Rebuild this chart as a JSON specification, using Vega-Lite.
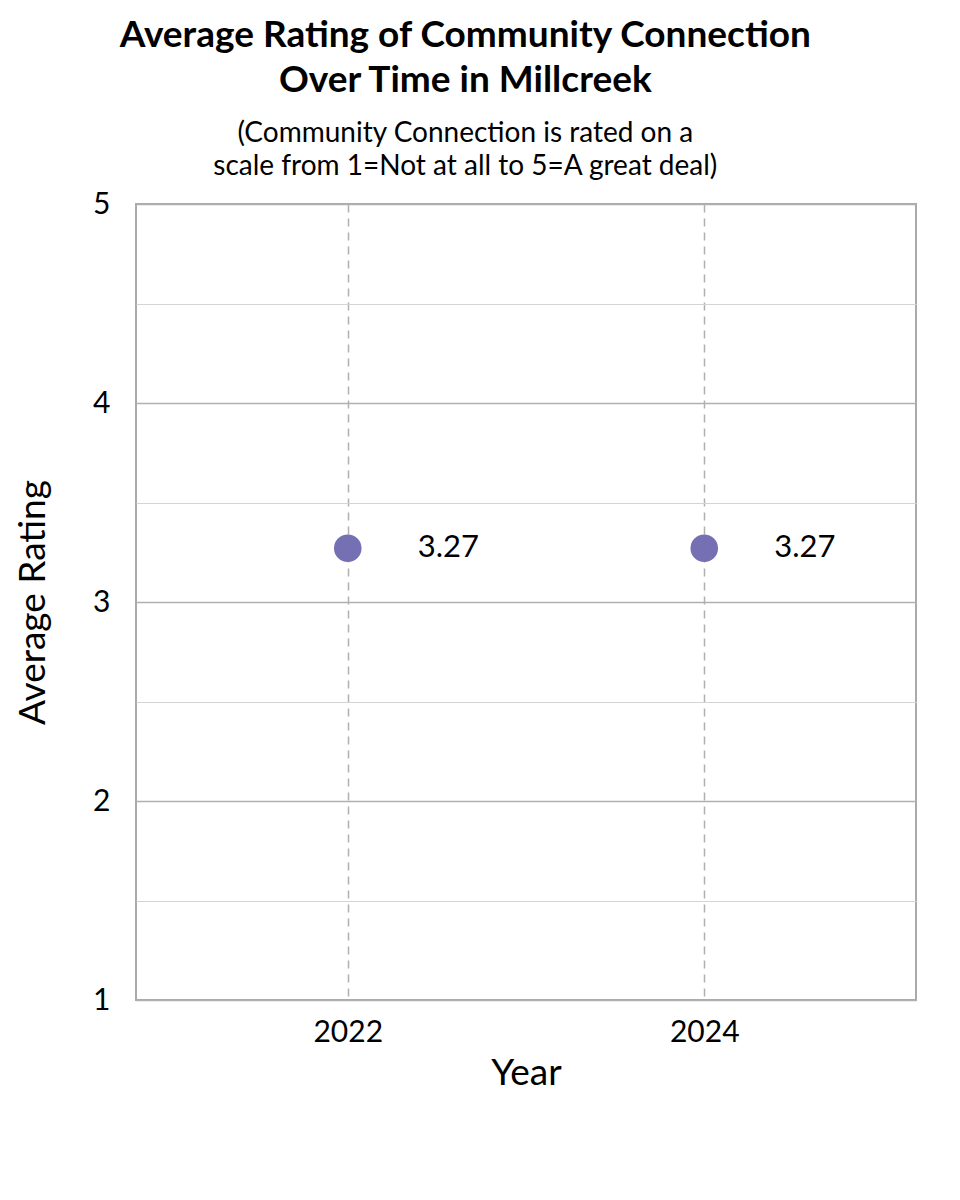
{
  "$schema": "https://vega.github.io/schema/vega-lite/v6.json",
  "width": 780,
  "height": 796,
  "autosize": "none",
  "padding": {"left": 136, "top": 204, "right": 44, "bottom": 200},
  "background": "white",
  "title": {
    "text": ["Average Rating of Community Connection", "Over Time in Millcreek"],
    "subtitle": ["(Community Connection is rated on a", "scale from 1=Not at all to 5=A great deal)"],
    "anchor": "middle",
    "frame": "bounds",
    "font": "Lato",
    "fontSize": 37,
    "fontWeight": "bold",
    "lineHeight": 45,
    "subtitleFont": "Lato",
    "subtitleFontSize": 28,
    "subtitleLineHeight": 33,
    "subtitlePadding": 20,
    "subtitleColor": "black",
    "color": "black",
    "offset": 7
  },
  "data": {
    "values": [
      {"Year": "2022", "Rating": 3.27},
      {"Year": "2024", "Rating": 3.27}
    ]
  },
  "encoding": {
    "x": {
      "field": "Year",
      "type": "ordinal",
      "title": "Year",
      "scale": {"type": "point", "padding": 0.594},
      "axis": {
        "labelAngle": 0,
        "labelFontSize": 30,
        "labelPadding": 17,
        "titleFontSize": 37,
        "titlePadding": 8,
        "ticks": false,
        "domain": false,
        "grid": true,
        "gridDash": [8, 6],
        "gridColor": "#b0b0b0",
        "gridWidth": 1.5
      }
    },
    "y": {
      "field": "Rating",
      "type": "quantitative",
      "title": "Average Rating",
      "scale": {"domain": [1, 5], "nice": false, "zero": false},
      "axis": {
        "values": [1, 1.5, 2, 2.5, 3, 3.5, 4, 4.5, 5],
        "labelExpr": "datum.value % 1 == 0 ? format(datum.value, 'd') : ''",
        "labelFontSize": 30,
        "labelPadding": 26,
        "titleFontSize": 37,
        "titlePadding": 40,
        "ticks": false,
        "domain": false,
        "gridColor": {"condition": {"test": "datum.value % 1 == 0", "value": "#b0b0b0"}, "value": "#d4d4d4"},
        "gridWidth": {"condition": {"test": "datum.value % 1 == 0", "value": 1.5}, "value": 1}
      }
    }
  },
  "layer": [
    {
      "mark": {"type": "circle", "size": 760, "color": "#7570b3", "opacity": 1}
    },
    {
      "mark": {"type": "text", "align": "left", "baseline": "middle", "dx": 70, "fontSize": 31, "font": "Lato", "color": "black"},
      "encoding": {"text": {"field": "Rating", "type": "quantitative", "format": ".2f"}}
    }
  ],
  "config": {
    "font": "Lato",
    "axis": {"labelColor": "black", "titleColor": "black", "titleFontWeight": "normal", "labelFont": "Lato", "titleFont": "Lato"},
    "view": {"stroke": "#aaaaaa", "strokeWidth": 2}
  }
}
